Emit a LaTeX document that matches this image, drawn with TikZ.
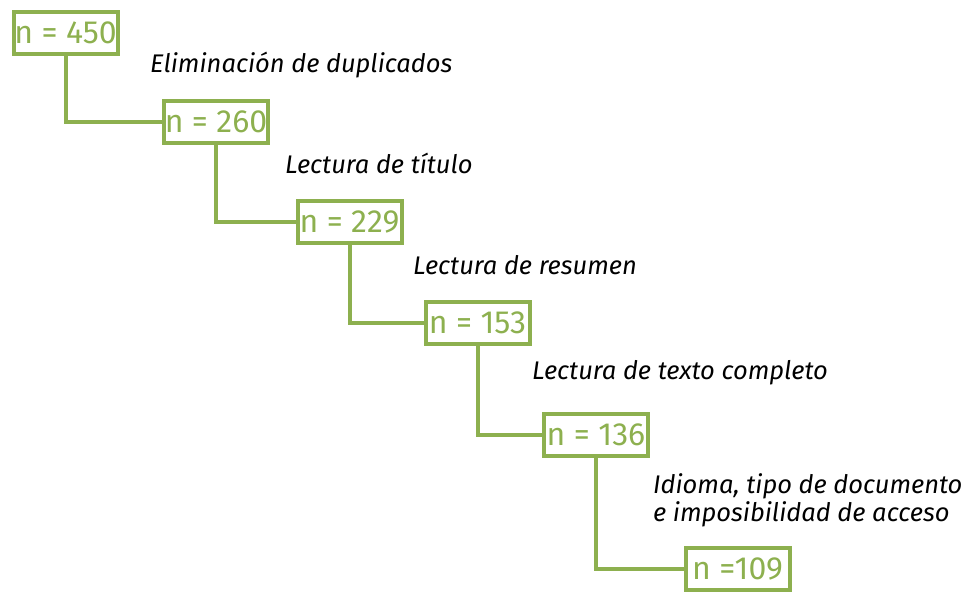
\documentclass[tikz,border=0pt]{standalone}
\usepackage{fontspec}
\setmainfont{Fira Sans}
\begin{document}
\begin{tikzpicture}[x=1pt,y=-1pt,
  countbox/.style={draw=olive,line width=4pt,minimum width=104pt,minimum height=42pt,inner sep=0pt,text=olive,font=\fontsize{32}{34}\selectfont},
  steplabel/.style={anchor=west,inner sep=0pt,align=left,font=\fontsize{25.5}{28}\selectfont\itshape},
  link/.style={olive,line width=4pt}]
  \definecolor{olive}{HTML}{8DB04F}
  \useasboundingbox (0,0) rectangle (970,592);
  \node [countbox] (n450) at (65.5,33) {n = 450};
  \node [countbox] (n260) at (216,121.5) {n = 260};
  \node [countbox] (n229) at (349.5,222) {n = 229};
  \node [countbox] (n153) at (477.5,323) {n = 153};
  \node [countbox] (n136) at (596,434.5) {n = 136};
  \node [countbox] (n109) at (737.5,569) {n =109};
  \draw [link] (n450.south) |- (n260.west);
  \draw [link] (n260.south) |- (n229.west);
  \draw [link] (n229.south) |- (n153.west);
  \draw [link] (n153.south) |- (n136.west);
  \draw [link] (n136.south) |- (n109.west);
  \node [steplabel] (dup) at (150,65) {Eliminación de duplicados};
  \node [steplabel] (tit) at (285,163) {Lectura de título};
  \node [steplabel] (res) at (413,265) {Lectura de resumen};
  \node [steplabel] (txt) at (532,373) {Lectura de texto completo};
  \node [steplabel] (idi) at (653,500) {Idioma, tipo de documento\\e imposibilidad de acceso};
\end{tikzpicture}
\end{document}
